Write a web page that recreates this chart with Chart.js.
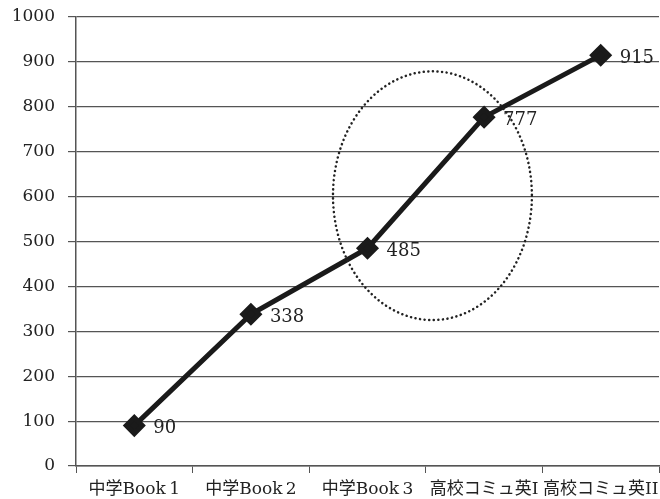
<!DOCTYPE html>
<html>
<head>
<meta charset="utf-8">
<script src="https://cdn.jsdelivr.net/npm/chart.js@4"></script>
<style>
  html, body { margin: 0; padding: 0; background: #fff; }
  #wrap { width: 660px; height: 499px; }
</style>
</head>
<body>
<div id="wrap"><canvas id="lineCanvas"></canvas></div>
<script>
const categories = ["中学Book\u20091", "中学Book\u20092", "中学Book\u20093", "高校コミュ英I", "高校コミュ英II"];
const wordCounts = [90, 338, 485, 777, 915];
const yTicks = [0, 100, 200, 300, 400, 500, 600, 700, 800, 900, 1000];

// dotted ring around the Book 3 -> コミュ英I jump (x in category index, y in value units)
const ring = { x: 2.557, y: 602, rx: 0.853, ry: 277 };

const numFont = "'DejaVu Serif', 'Liberation Serif', serif";
const labelFont = "'DejaVu Serif', 'Noto Sans CJK JP', serif";

const valueLabels = {
    id: "valueLabels",
    afterDatasetsDraw(chart) {
        const ctx = chart.ctx;
        const meta = chart.getDatasetMeta(0);
        ctx.save();
        ctx.font = "18px " + numFont;
        ctx.fillStyle = "#222";
        ctx.textBaseline = "middle";
        meta.data.forEach((pt, i) => {
            ctx.fillText(String(wordCounts[i]), pt.x + 19, pt.y + 3);
        });
        ctx.restore();
    }
};

const ringPlugin = {
    id: "ringPlugin",
    afterDatasetsDraw(chart) {
        const xs = chart.scales.x, ys = chart.scales.y;
        const cx = xs.getPixelForValue(ring.x);
        const cy = ys.getPixelForValue(ring.y);
        const rx = xs.getPixelForValue(ring.x + ring.rx) - cx;
        const ry = cy - ys.getPixelForValue(ring.y + ring.ry);
        const ctx = chart.ctx;
        ctx.save();
        ctx.strokeStyle = "#222";
        ctx.lineWidth = 2.5;
        ctx.lineCap = "round";
        ctx.setLineDash([0.1, 4.5]);
        ctx.beginPath();
        ctx.ellipse(cx, cy, rx, ry, 0, 0, Math.PI * 2);
        ctx.stroke();
        ctx.restore();
    }
};

const lineCanvas = document.getElementById("lineCanvas");
const lineChart = new Chart(lineCanvas, {
    type: "line",
    data: {
        labels: categories,
        datasets: [{
            data: wordCounts,
            borderColor: "#1a1a1a",
            borderWidth: 5,
            pointStyle: "rectRot",
            pointRadius: 8,
            pointBackgroundColor: "#1a1a1a",
            pointBorderColor: "#1a1a1a",
            tension: 0
        }]
    },
    options: {
        responsive: true,
        maintainAspectRatio: false,
        animation: false,
        layout: { autoPadding: false, padding: { top: 17, right: 1, left: 0, bottom: 0 } },
        plugins: {
            legend: { display: false },
            tooltip: { enabled: false }
        },
        scales: {
            x: {
                type: "category",
                offset: true,
                afterFit(scale) {
                    scale.height = 33;
                    scale.paddingLeft = 0;
                    scale.paddingRight = 0;
                },
                grid: {
                    offset: true,
                    drawOnChartArea: false,
                    drawTicks: true,
                    tickLength: 7,
                    color: "#555"
                },
                border: { color: "#555", width: 1.5 },
                ticks: {
                    color: "#222",
                    maxRotation: 0,
                    autoSkip: false,
                    padding: 6,
                    font: { family: labelFont, size: 17 }
                }
            },
            y: {
                min: 0,
                max: 1000,
                afterFit(scale) {
                    scale.width = 76;
                    scale.paddingTop = 0;
                    scale.paddingBottom = 0;
                },
                afterBuildTicks(scale) { scale.ticks = yTicks.map(v => ({ value: v })); },
                grid: {
                    color: "#555",
                    lineWidth: 1.2,
                    drawTicks: true,
                    tickLength: 8
                },
                border: { color: "#555", width: 1.5 },
                ticks: {
                    color: "#222",
                    padding: 13,
                    callback: (v) => String(v),
                    font: { family: numFont, size: 17 }
                }
            }
        }
    },
    plugins: [valueLabels, ringPlugin]
});
</script>
</body>
</html>
